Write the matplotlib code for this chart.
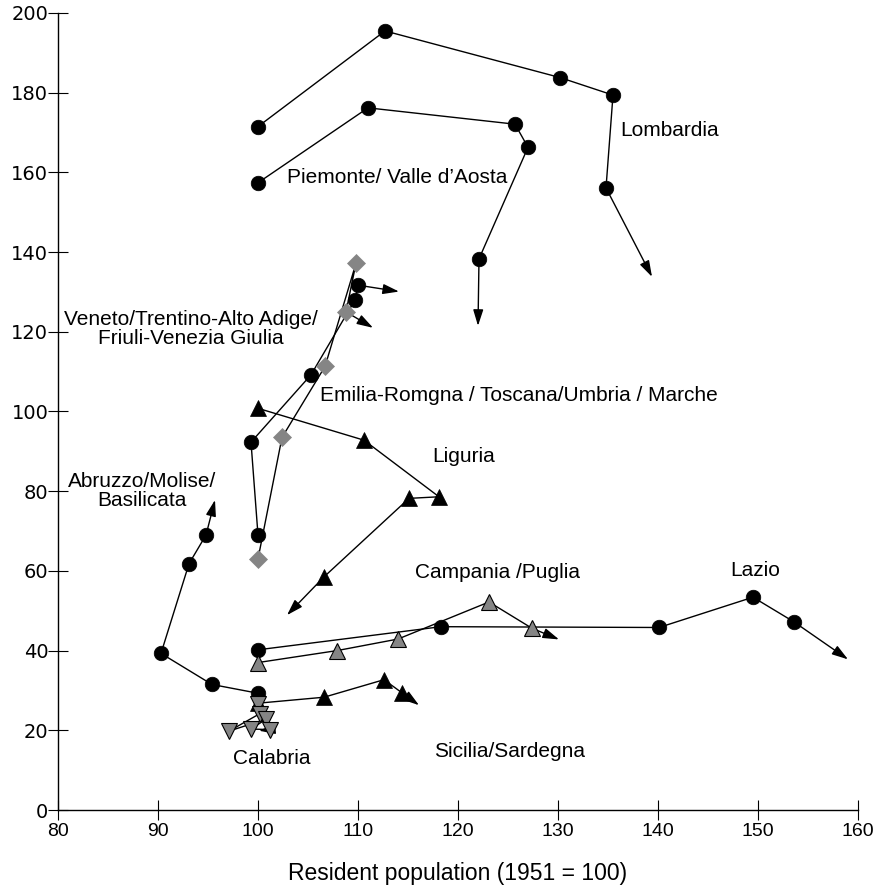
import matplotlib
matplotlib.use("Agg")
import matplotlib.pyplot as plt

# ---- data (x = resident population index 1951=100, y = value index) ----
lombardia_x = [100, 112.7, 130.2, 135.5, 134.8]
lombardia_y = [171.5, 195.5, 183.8, 179.4, 156.1]
lombardia_tip = (139.4, 133.8)

piemonte_x = [100, 111.0, 125.7, 127.0, 122.1]
piemonte_y = [157.4, 176.2, 172.1, 166.3, 138.3]
piemonte_tip = (122.0, 121.5)

emilia_x = [100, 99.3, 105.3, 109.7, 110.0]
emilia_y = [69.0, 92.3, 109.2, 128.0, 131.7]
emilia_tip = (114.1, 130.1)

veneto_x = [100, 102.4, 106.7, 109.8, 108.8]
veneto_y = [63.0, 93.5, 111.3, 137.2, 125.0]
veneto_tip = (111.5, 121.0)

liguria_x = [100, 110.6, 118.1, 115.1, 106.6]
liguria_y = [100.8, 92.8, 78.6, 78.2, 58.5]
liguria_tip = (102.9, 48.9)

abruzzo_x = [100, 95.4, 90.3, 93.1, 94.8]
abruzzo_y = [29.3, 31.5, 39.3, 61.8, 69.0]
abruzzo_tip = (95.7, 77.8)

lazio_x = [100, 118.3, 140.1, 149.5, 153.6]
lazio_y = [40.2, 46.0, 45.8, 53.4, 47.2]
lazio_tip = (159.0, 37.8)

campania_x = [100, 107.9, 114.0, 123.1, 127.4]
campania_y = [37.0, 40.0, 42.9, 52.2, 45.6]
campania_tip = (130.1, 42.8)

sicilia_x = [100, 106.6, 112.6, 114.4]
sicilia_y = [26.8, 28.3, 32.7, 29.4]
sicilia_tip = (116.1, 26.3)

calabria_x = [100, 100.2, 97.1, 100.8, 99.3, 101.2]
calabria_y = [26.6, 24.2, 19.8, 22.8, 20.3, 20.2]
calabria_tip = (100.1, 19.9)

labels = [
    ("Lombardia", 136.2, 170.4, "left"),
    ("Piemonte/ Valle d\u2019Aosta", 102.9, 158.6, "left"),
    ("Veneto/Trentino-Alto Adige/\nFriuli-Venezia Giulia", 93.3, 120.7, "center"),
    ("Emilia-Romgna / Toscana/Umbria / Marche", 106.2, 103.9, "left"),
    ("Liguria", 117.4, 88.8, "left"),
    ("Abruzzo/Molise/\nBasilicata", 88.4, 80.0, "center"),
    ("Campania /Puglia", 115.7, 59.5, "left"),
    ("Lazio", 149.7, 60.2, "center"),
    ("Sicilia/Sardegna", 117.6, 14.8, "left"),
    ("Calabria", 101.35, 13.0, "center"),
]

x_ticks = [80, 90, 100, 110, 120, 130, 140, 150, 160]
y_ticks = [0, 20, 40, 60, 80, 100, 120, 140, 160, 180, 200]
x_label = "Resident population (1951 = 100)"

plt.rcParams['font.family'] = ['Liberation Sans', 'DejaVu Sans']

fig = plt.figure(figsize=(8.79, 8.88), dpi=100)
ax = fig.add_axes([58/879, 78/888, 800/879, 797/888])

GREY = '#858585'

def series(xs, ys, tip, marker, face, edge, ms, mew, z):
    ax.plot(xs, ys, color='black', lw=1.0, zorder=z)
    ax.annotate('', xy=tip, xytext=(xs[-1], ys[-1]),
                arrowprops=dict(arrowstyle='-|>,head_length=0.7,head_width=0.22',
                                color='black', lw=1.0, shrinkA=0, shrinkB=0,
                                mutation_scale=14), zorder=z)
    ax.plot(xs, ys, ls='none', marker=marker, ms=ms, mfc=face, mec=edge,
            mew=mew, zorder=z + 0.5)

series(lombardia_x, lombardia_y, lombardia_tip, 'o', 'black', 'black', 10.5, 0.5, 3)
series(piemonte_x, piemonte_y, piemonte_tip, 'o', 'black', 'black', 10.5, 0.5, 3)
series(emilia_x, emilia_y, emilia_tip, 'o', 'black', 'black', 10.5, 0.5, 3)
series(veneto_x, veneto_y, veneto_tip, 'D', GREY, GREY, 9.5, 0.5, 4)
series(liguria_x, liguria_y, liguria_tip, '^', 'black', 'black', 11.5, 0.5, 3)
series(lazio_x, lazio_y, lazio_tip, 'o', 'black', 'black', 10.5, 0.5, 3)
series(campania_x, campania_y, campania_tip, '^', GREY, 'black', 12, 0.8, 4)
series(sicilia_x, sicilia_y, sicilia_tip, '^', 'black', 'black', 11.5, 0.5, 3)
series(abruzzo_x, abruzzo_y, abruzzo_tip, 'o', 'black', 'black', 10.5, 0.5, 3)
series(calabria_x, calabria_y, calabria_tip, 'v', GREY, 'black', 12, 0.8, 5)

for txt, x, y, ha in labels:
    ax.text(x, y, txt, ha=ha, va='center', fontsize=15, linespacing=1.0,
            zorder=6)

ax.set_xlim(80, 160)
ax.set_ylim(0, 200)
ax.set_xticks(x_ticks)
ax.set_yticks(y_ticks)
ax.spines['top'].set_visible(False)
ax.spines['right'].set_visible(False)
ax.spines['left'].set_linewidth(1.0)
ax.spines['bottom'].set_linewidth(1.0)
ax.tick_params(axis='both', direction='inout', length=14, width=0.8, pad=2)
ax.tick_params(axis='y', pad=0)
for lab in ax.get_yticklabels():
    lab.set_fontfamily(['DejaVu Sans'])
    lab.set_fontsize(14)
for lab in ax.get_xticklabels():
    lab.set_fontsize(14)
ax.set_xlabel(x_label, fontsize=16.5, labelpad=16)

fig.savefig('out.png', dpi=100)
